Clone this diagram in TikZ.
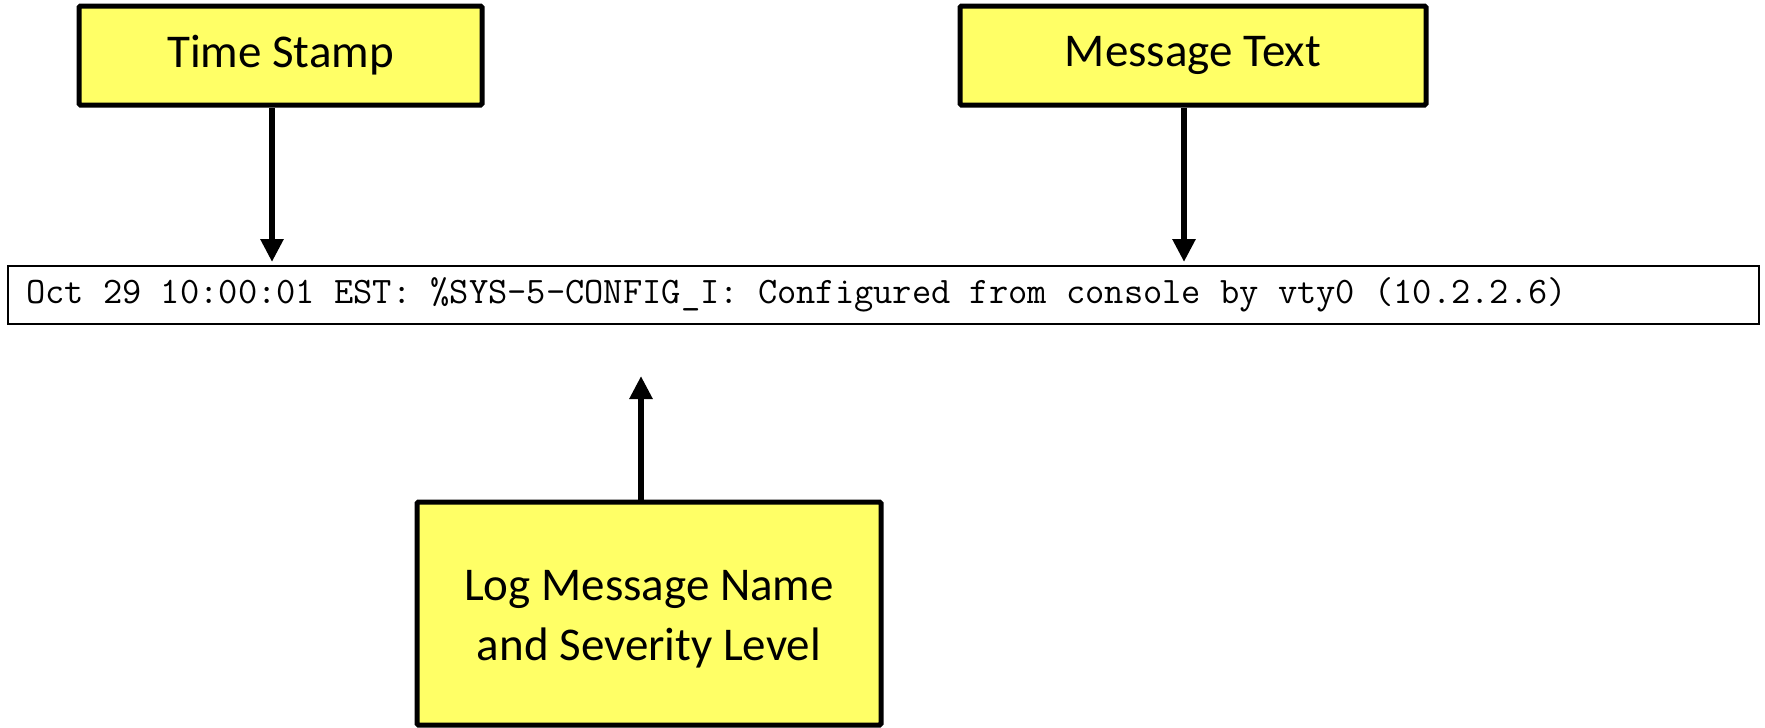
\documentclass[tikz,border=0pt]{standalone}
\usepackage{fontspec}
\setmainfont{Carlito}
\usetikzlibrary{arrows.meta}
\definecolor{notefill}{RGB}{255,255,102}
\tikzset{
  note/.style={draw=black, line width=5pt, fill=notefill, rounded corners=1.5pt,
    inner sep=0pt, align=center, font=\fontsize{47}{60}\selectfont},
  notetext/.style={inner sep=0pt, align=center, font=\fontsize{47}{60}\selectfont},
  logline/.style={draw=black, line width=2pt, inner sep=0pt},
  logfont/.style={font=\ttfamily\fontsize{37.4}{42}\selectfont},
  pointer/.style={line width=6pt, -{Triangle[width=22pt,length=23pt]}}
}
\begin{document}
\begin{tikzpicture}[x=1pt,y=-1pt]
  \useasboundingbox (0,0) rectangle (1765,728);
  % the log line
  \node[logline, minimum width=1751pt, minimum height=58pt] (log) at (883.5,295) {};
  \node[logfont, anchor=west, inner sep=0pt] (logtext) at (26,295)
    {Oct 29 10:00:01 EST: \%SYS-5-CONFIG\_I: Configured from console by vty0 (10.2.2.6)};
  % labels
  \node[note, minimum width=403pt, minimum height=99pt] (ts) at (280.5,55.5) {Time Stamp};
  \node[note, minimum width=466pt, minimum height=99pt] (mt) at (1193,55.5) {Message Text};
  \node[note, minimum width=464pt, minimum height=223pt] (sev) at (649,613.5) {};
  \node[notetext, yshift=-6pt] (sevtext) at (sev.center) {Log Message Name\\and Severity Level};
  % pointer ends
  \coordinate (tsend) at (272,262);
  \coordinate (mtend) at (1184,262);
  \coordinate (sevend) at (641,376);
  \draw[pointer] (ts.south -| tsend) -- (tsend);
  \draw[pointer] (mt.south -| mtend) -- (mtend);
  \draw[pointer] (sev.north -| sevend) -- (sevend);
\end{tikzpicture}
\end{document}
